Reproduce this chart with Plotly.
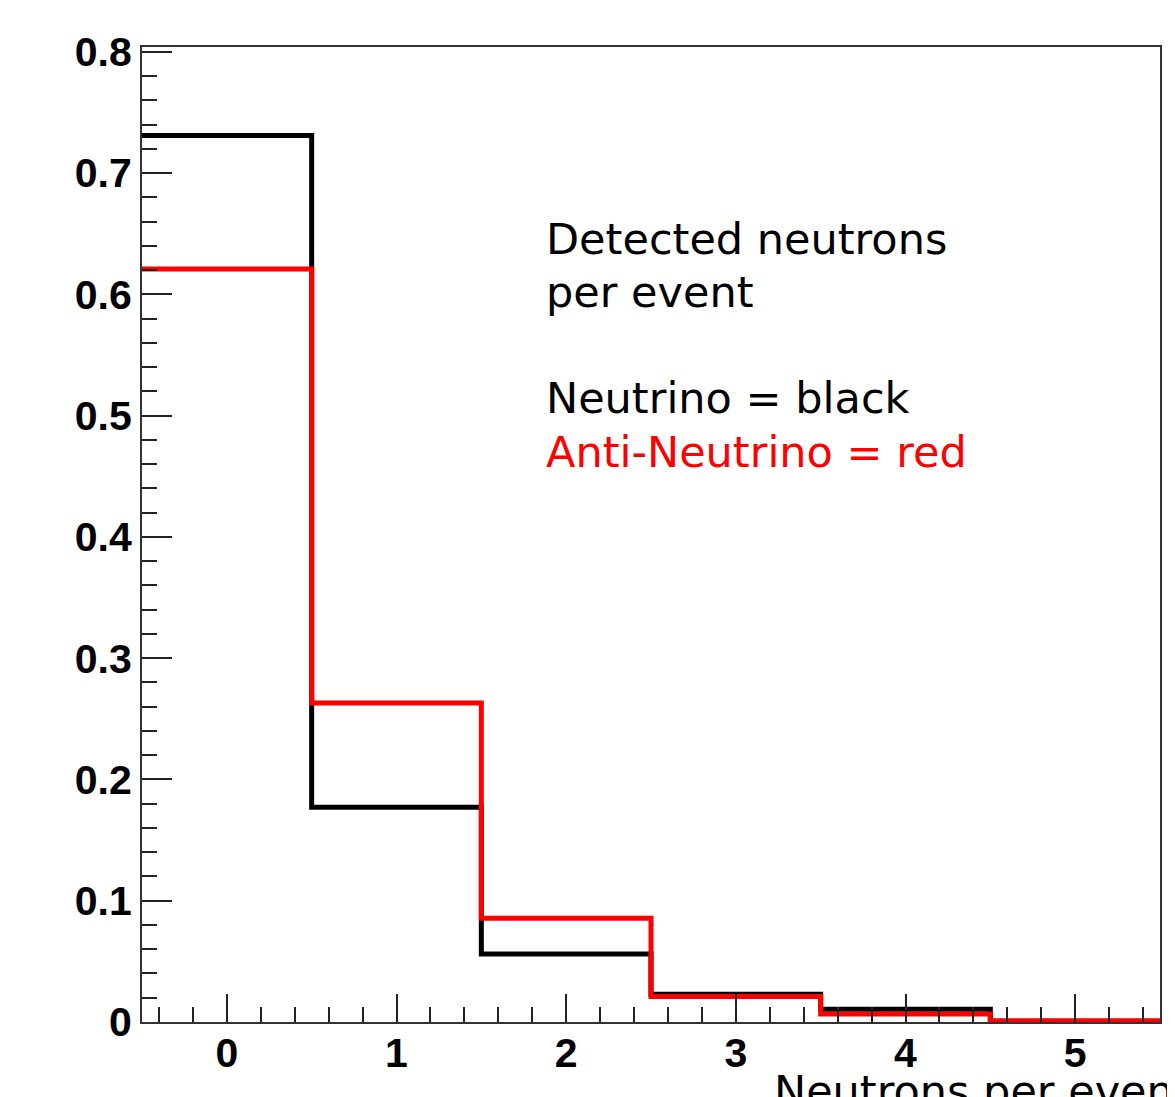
import plotly.graph_objects as go

# Data: fraction of events per number of detected neutrons
bins = [0, 1, 2, 3, 4, 5]
neutrino = [0.731, 0.177, 0.056, 0.0228, 0.0105, 0.0005]
antineutrino = [0.621, 0.263, 0.0856, 0.021, 0.0065, 0.0010]

x_ticks = [0, 1, 2, 3, 4, 5]
y_ticks = [0, 0.1, 0.2, 0.3, 0.4, 0.5, 0.6, 0.7, 0.8]
y_tick_text = ["0", "0.1", "0.2", "0.3", "0.4", "0.5", "0.6", "0.7", "0.8"]

def steps(centers, vals):
    edges = [c - 0.5 for c in centers] + [centers[-1] + 0.5]
    return edges, list(vals) + [vals[-1]]

fig = go.Figure()
for vals, col in [(neutrino, "black"), (antineutrino, "#ff0000")]:
    xs, ys = steps(bins, vals)
    fig.add_trace(go.Scatter(x=xs, y=ys, mode="lines", line=dict(color=col, width=5, shape="hv"),
                             showlegend=False, hoverinfo="skip"))

OFF = 8  # page body margin
W, H = 1175 - OFF, 1097 - OFF
L, R, T, B = 142 - OFF, 15, 47 - OFF, 75
pw, ph = W - L - R, H - T - B

def px(x):
    return (x - OFF - L) / pw

def py(y):
    return (H - B - (y - OFF)) / ph

tickfont = dict(family="Liberation Sans", size=41, color="black", weight="bold")
fig.update_layout(
    width=W, height=H,
    margin=dict(l=L, r=R, t=T, b=B),
    paper_bgcolor="white", plot_bgcolor="white",
    xaxis=dict(range=[-0.5, 5.5], tickvals=x_ticks, ticks="inside", ticklen=28, tickwidth=2,
               tickcolor="#222", showgrid=False, zeroline=False, showline=True, linecolor="#333",
               linewidth=2, mirror=True, tickfont=tickfont, ticklabelstandoff=-6,
               minor=dict(dtick=0.2, tick0=0, ticks="inside", ticklen=15, tickwidth=2, tickcolor="#222", showgrid=False)),
    yaxis=dict(range=[0, 0.804], tickvals=y_ticks, ticktext=y_tick_text, ticks="inside", ticklen=30,
               tickwidth=2, tickcolor="#222", showgrid=False, zeroline=False, showline=True,
               linecolor="#333", linewidth=2, mirror=True, tickfont=tickfont,
               minor=dict(dtick=0.02, tick0=0, ticks="inside", ticklen=15, tickwidth=2, tickcolor="#222", showgrid=False)),
)

labels = [
    ("Detected neutrons", 239, "black"),
    ("per event", 292, "black"),
    ("Neutrino = black", 398, "black"),
    ("Anti-Neutrino = red", 452, "#ff0000"),
]
for t, yy, c in labels:
    fig.add_annotation(text=t, x=px(544), y=py(yy), xref="paper", yref="paper", xanchor="left",
                       yanchor="middle", showarrow=False, font=dict(family="DejaVu Sans", size=43, color=c))

fig.add_annotation(text="Neutrons per event", x=px(772), y=py(1091), xref="paper", yref="paper",
                   xanchor="left", yanchor="middle", showarrow=False,
                   font=dict(family="DejaVu Sans", size=43, color="black"))

fig.write_html("out.html")
